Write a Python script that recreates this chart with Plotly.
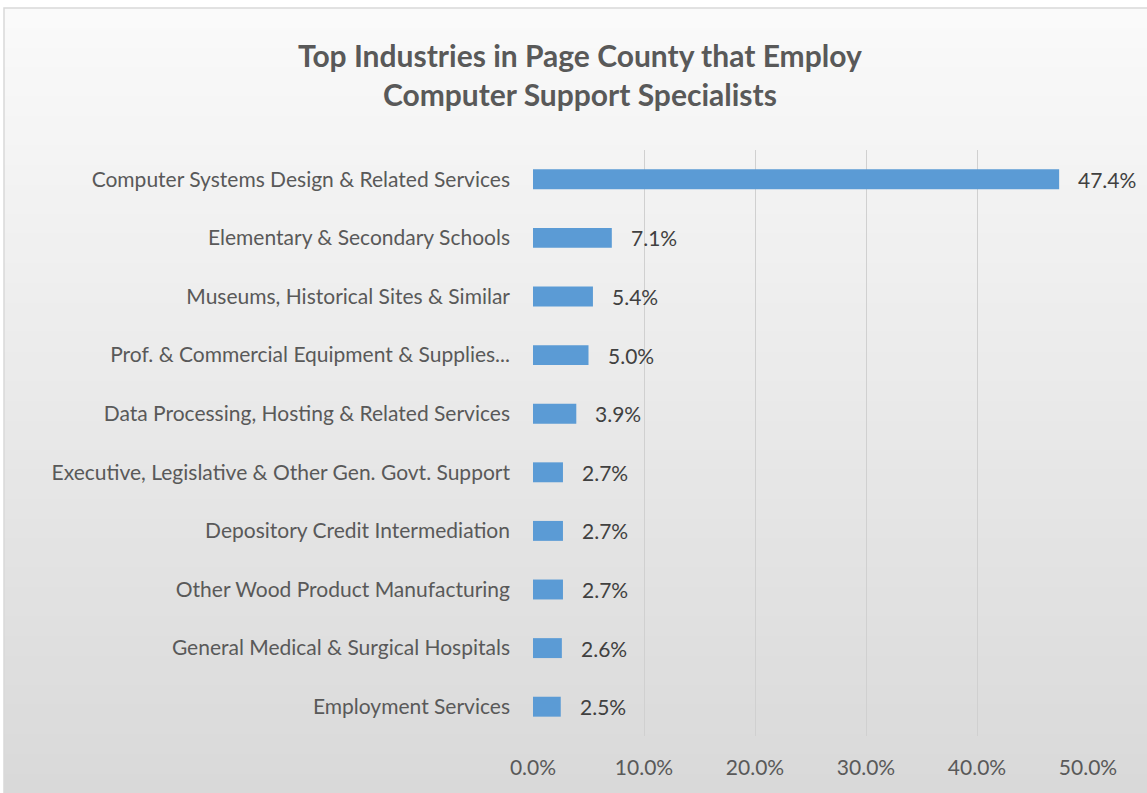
import plotly.graph_objects as go

categories = [
    "Computer Systems Design & Related Services",
    "Elementary & Secondary Schools",
    "Museums, Historical Sites & Similar",
    "Prof. & Commercial Equipment & Supplies...",
    "Data Processing, Hosting & Related Services",
    "Executive, Legislative & Other Gen. Govt. Support",
    "Depository Credit Intermediation",
    "Other Wood Product Manufacturing",
    "General Medical & Surgical Hospitals",
    "Employment Services",
]
values = [47.4, 7.1, 5.4, 5.0, 3.9, 2.7, 2.7, 2.7, 2.6, 2.5]
tick_vals = [0, 10, 20, 30, 40, 50]
tick_text = ["0.0%", "10.0%", "20.0%", "30.0%", "40.0%", "50.0%"]
title_lines = ["Top Industries in Page County that Employ", "Computer Support Specialists"]

W, H = 1147, 793
L, R, T, B = 533, 1088, 150, 736
FONT = "Lato"

def px_x(px):
    return (px - L) / (R - L)

def px_y(py):
    return (B - py) / (B - T)

fig = go.Figure()
fig.add_trace(go.Bar(
    y=categories, x=values, orientation="h",
    marker=dict(color="#5b9bd5", line=dict(width=0)),
    width=0.34, hoverinfo="skip",
))

annotations = []
for c, v in zip(categories, values):
    annotations.append(dict(
        x=v, y=c, xref="x", yref="y", text=f"{v:.1f}%", showarrow=False,
        xanchor="left", xshift=17, font=dict(family=FONT, size=21, color="#404040"),
    ))
annotations.append(dict(
    x=px_x(580), y=px_y(74), xref="paper", yref="paper", xanchor="center", yanchor="middle",
    text="<b>" + "<br>".join(title_lines) + "</b>", showarrow=False,
    font=dict(family=FONT, size=30, color="#595959"),
))

shapes = []
# gradient background
n = 80
top_px, bot_px = 8, 793
c0, c1 = (250, 250, 250), (217, 217, 217)
for i in range(n):
    y0 = top_px + (bot_px - top_px) * i / n
    y1 = top_px + (bot_px - top_px) * (i + 1) / n + 1
    t = i / (n - 1)
    col = tuple(round(a + (b - a) * t) for a, b in zip(c0, c1))
    shapes.append(dict(
        type="rect", xref="paper", yref="paper", layer="below",
        x0=px_x(4), x1=px_x(W + 5), y0=px_y(y1), y1=px_y(y0),
        fillcolor="rgb(%d,%d,%d)" % col, line=dict(width=0),
    ))
shapes.append(dict(
    type="rect", xref="paper", yref="paper", layer="below",
    x0=px_x(4), x1=px_x(W + 5), y0=px_y(bot_px + 5), y1=px_y(8),
    fillcolor="rgba(0,0,0,0)", line=dict(color="#d9d9d9", width=1.5),
))

fig.update_layout(
    width=W, height=H,
    margin=dict(l=L, r=W - R, t=T, b=H - B),
    paper_bgcolor="white", plot_bgcolor="rgba(0,0,0,0)",
    showlegend=False,
    xaxis=dict(
        range=[0, 50], tickvals=tick_vals, ticktext=tick_text,
        showgrid=True, gridcolor="#d0d0d0", gridwidth=1, zeroline=False,
        showline=False, ticks="", ticklabelstandoff=17,
        tickfont=dict(family=FONT, size=21, color="#595959"), fixedrange=True,
    ),
    yaxis=dict(
        categoryorder="array", categoryarray=categories[::-1],
        showgrid=False, zeroline=False, showline=False, ticks="",
        ticklabelstandoff=22,
        tickfont=dict(family=FONT, size=21, color="#595959"), fixedrange=True,
    ),
    annotations=annotations, shapes=shapes, bargap=0.66,
)

fig.write_html(
    "out.html",
    config={"displayModeBar": False},
    post_script="document.body.style.margin='0';document.body.style.padding='0';",
)
